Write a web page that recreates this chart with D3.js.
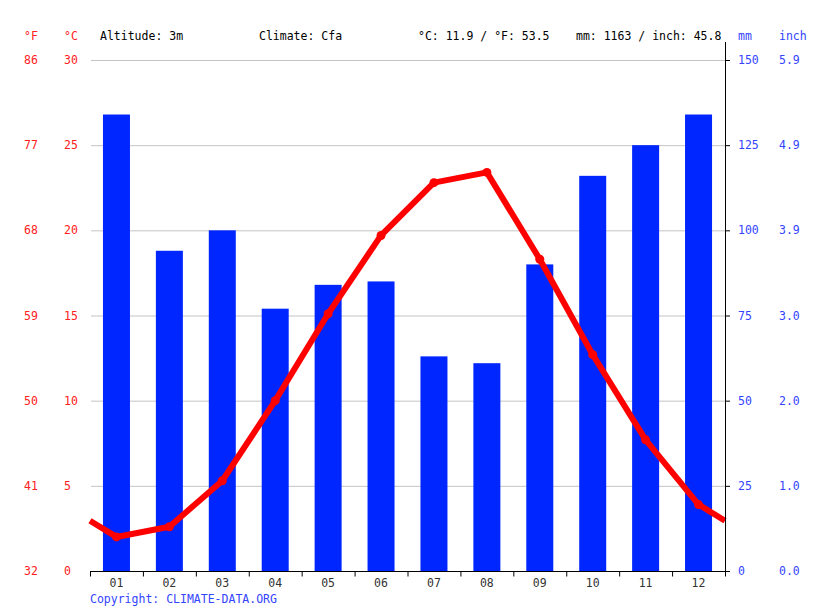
<!DOCTYPE html>
<html>
<head>
<meta charset="utf-8">
<script src="https://cdn.jsdelivr.net/npm/d3@7"></script>
<style>
  body { margin: 0; background: #fff; }
  svg text { font-family: "DejaVu Sans Mono", monospace; font-size: 11.5px; }
</style>
</head>
<body>
<svg id="chart"></svg>
<script>
const months = ["01", "02", "03", "04", "05", "06", "07", "08", "09", "10", "11", "12"];
const tempC = [2.0, 2.6, 5.3, 10.0, 15.1, 19.7, 22.8, 23.4, 18.3, 12.7, 7.7, 3.9];
const precipMm = [134, 94, 100, 77, 84, 85, 63, 61, 90, 116, 125, 134];
const cTicks = [0, 5, 10, 15, 20, 25, 30];
const fTicks = ["32", "41", "50", "59", "68", "77", "86"];
const mmTicks = [0, 25, 50, 75, 100, 125, 150];
const inchTicks = ["0.0", "1.0", "2.0", "3.0", "3.9", "4.9", "5.9"];

const width = 815, height = 611;
const margin = { top: 60, left: 90, bottom: 40, right: 90 };
const red = "#ff0000", blue = "#0026ff", labelBlue = "#3344ff", labelRed = "#ff2020";

const svg = d3.select("#chart").attr("width", width).attr("height", height);

const x = d3.scaleBand().domain(months).range([margin.left, width - margin.right]);
const yT = d3.scaleLinear().domain([0, 30]).range([height - margin.bottom, margin.top]);
const yP = d3.scaleLinear().domain([0, 150]).range([height - margin.bottom, margin.top]);
const y0 = height - margin.bottom;
const xR = width - margin.right;

// gridlines
svg.append("g").selectAll("line").data(cTicks.slice(1)).enter().append("line")
  .attr("x1", margin.left + 1).attr("x2", xR)
  .attr("y1", d => yT(d) + 0.5).attr("y2", d => yT(d) + 0.5)
  .attr("stroke", "#c4c4c4").attr("stroke-width", 1);

// bars
const bw = 27;
svg.append("g").selectAll("rect").data(precipMm).enter().append("rect")
  .attr("x", (d, i) => x(months[i]) + x.bandwidth() / 2 - bw / 2)
  .attr("y", d => yP(d))
  .attr("width", bw)
  .attr("height", d => y0 - yP(d))
  .attr("fill", blue);

// temperature line, ends at the Dec/Jan average
const edge = (tempC[0] + tempC[11]) / 2;
const pts = [[margin.left, edge]]
  .concat(tempC.map((t, i) => [x(months[i]) + x.bandwidth() / 2, t]))
  .concat([[xR, edge]]);
svg.append("path")
  .datum(pts)
  .attr("d", d3.line().x(d => d[0]).y(d => yT(d[1])))
  .attr("fill", "none").attr("stroke", red).attr("stroke-width", 6)
  .attr("stroke-linejoin", "round");
svg.append("g").selectAll("circle").data(tempC).enter().append("circle")
  .attr("cx", (d, i) => x(months[i]) + x.bandwidth() / 2)
  .attr("cy", d => yT(d))
  .attr("r", 4.5).attr("fill", red);

// bottom axis
const xAxis = svg.append("g").attr("transform", `translate(0,${y0 + 0.5})`);
xAxis.append("line").attr("x1", margin.left).attr("x2", xR + 1).attr("stroke", "#000");
xAxis.selectAll(".tk").data(months.concat(["end"])).enter().append("line")
  .attr("x1", (d, i) => margin.left + i * x.bandwidth() + 0.5)
  .attr("x2", (d, i) => margin.left + i * x.bandwidth() + 0.5)
  .attr("y1", 0).attr("y2", 5).attr("stroke", "#000");
xAxis.selectAll("text").data(months).enter().append("text")
  .attr("x", d => x(d) + x.bandwidth() / 2)
  .attr("y", 15)
  .attr("text-anchor", "middle")
  .attr("fill", "#333")
  .text(d => d);

// right axis line
svg.append("line").attr("x1", xR + 0.5).attr("x2", xR + 0.5)
  .attr("y1", 42).attr("y2", y0 + 1).attr("stroke", "#000");
svg.append("g").selectAll("line").data(mmTicks).enter().append("line")
  .attr("x1", xR).attr("x2", xR + 5)
  .attr("y1", d => yP(d) + 0.5).attr("y2", d => yP(d) + 0.5)
  .attr("stroke", "#000");

// left labels
svg.append("g").selectAll("text").data(cTicks).enter().append("text")
  .attr("x", 64).attr("y", d => yT(d) + 4)
  .attr("fill", labelRed).text(d => d);
svg.append("g").selectAll("text").data(fTicks).enter().append("text")
  .attr("x", 24).attr("y", (d, i) => yT(cTicks[i]) + 4)
  .attr("fill", labelRed).text(d => d);

// right labels
svg.append("g").selectAll("text").data(mmTicks).enter().append("text")
  .attr("x", 738).attr("y", d => yP(d) + 4)
  .attr("fill", labelBlue).text(d => d);
svg.append("g").selectAll("text").data(inchTicks).enter().append("text")
  .attr("x", 779).attr("y", (d, i) => yP(mmTicks[i]) + 4)
  .attr("fill", labelBlue).text(d => d);

// header
const header = [
  { x: 24, t: "°F", c: labelRed },
  { x: 64, t: "°C", c: labelRed },
  { x: 100, t: "Altitude: 3m", c: "#000" },
  { x: 259, t: "Climate: Cfa", c: "#000" },
  { x: 418, t: "°C: 11.9 / °F: 53.5", c: "#000" },
  { x: 576, t: "mm: 1163 / inch: 45.8", c: "#000" },
  { x: 738, t: "mm", c: labelBlue },
  { x: 779, t: "inch", c: labelBlue }
];
svg.append("g").selectAll("text").data(header).enter().append("text")
  .attr("x", d => d.x).attr("y", 40)
  .attr("fill", d => d.c).text(d => d.t);

svg.append("text").attr("x", 90).attr("y", 603)
  .attr("fill", labelBlue).text("Copyright: CLIMATE-DATA.ORG");
</script>
</body>
</html>
